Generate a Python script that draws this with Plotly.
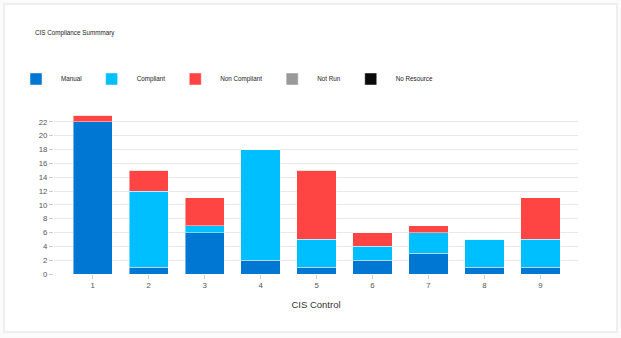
import plotly.graph_objects as go

controls = [1, 2, 3, 4, 5, 6, 7, 8, 9]
series_names = ["Manual", "Compliant", "Non Compliant", "Not Run", "No Resource"]
series_colors = ["#0077d3", "#00bfff", "#ff4444", "#999999", "#0a0a0a"]
manual = [22, 1, 6, 2, 1, 2, 3, 1, 1]
compliant = [0, 11, 1, 16, 4, 2, 3, 4, 4]
non_compliant = [1, 3, 4, 0, 10, 2, 1, 0, 6]
not_run = [0, 0, 0, 0, 0, 0, 0, 0, 0]
no_resource = [0, 0, 0, 0, 0, 0, 0, 0, 0]
y_ticks = list(range(0, 24, 2))

series_values = [manual, compliant, non_compliant, not_run, no_resource]

W, H = 621, 338
L, R, T, B = 54, 43, 115, 64

fig = go.Figure()
for name, color, vals in zip(series_names, series_colors, series_values):
    fig.add_trace(go.Bar(
        x=controls, y=vals, name=name,
        marker=dict(color=color, line=dict(color="rgba(255,255,255,0.45)", width=1)),
        width=0.7,
    ))

pw = W - L - R
ph = H - T - B

def px_x(p):
    return (p - L) / pw

def px_y(p):
    return (H - B - p) / ph

shapes = [
    dict(type="rect", xref="paper", yref="paper",
         x0=px_x(4), x1=px_x(617), y0=px_y(332), y1=px_y(4),
         line=dict(color="#eeeeee", width=2), fillcolor="#ffffff", layer="below"),
]

FONT = "Liberation Sans, Arial, sans-serif"

fig.update_layout(
    width=W, height=H,
    margin=dict(l=L, r=R, t=T, b=B, autoexpand=False),
    paper_bgcolor="#fbfbfb",
    plot_bgcolor="rgba(0,0,0,0)",
    barmode="stack",
    font=dict(family=FONT, size=8, color="#555"),
    title=dict(text="CIS Compliance Summmary", x=35 / W, xanchor="left",
               y=1 - 33 / H, yanchor="middle", yref="container",
               font=dict(family=FONT, size=6.3, color="#222")),
    showlegend=True,
    legend=dict(orientation="h", x=px_x(11), xanchor="left", y=px_y(79), yanchor="middle",
                itemwidth=40, font=dict(family=FONT, size=6.3, color="#222"),
                bgcolor="rgba(0,0,0,0)", traceorder="normal"),
    xaxis=dict(tickmode="array", tickvals=controls, ticktext=[str(c) for c in controls],
               range=[0.31, 9.67], showgrid=False, zeroline=False, showline=False,
               ticks="outside", ticklen=4, tickcolor="#cccccc",
               tickfont=dict(size=7.8, color="#555"),
               title=dict(text="CIS Control", font=dict(size=9.5, color="#333"), standoff=11)),
    yaxis=dict(range=[0, 23], tickmode="array", tickvals=y_ticks,
               showgrid=True, gridcolor="#e8e8e8", gridwidth=1.2, zeroline=False,
               ticks="outside", ticklen=4, tickcolor="#cccccc",
               tickfont=dict(size=7.8, color="#555")),
    shapes=shapes,
)

fig.write_html("out.html")
